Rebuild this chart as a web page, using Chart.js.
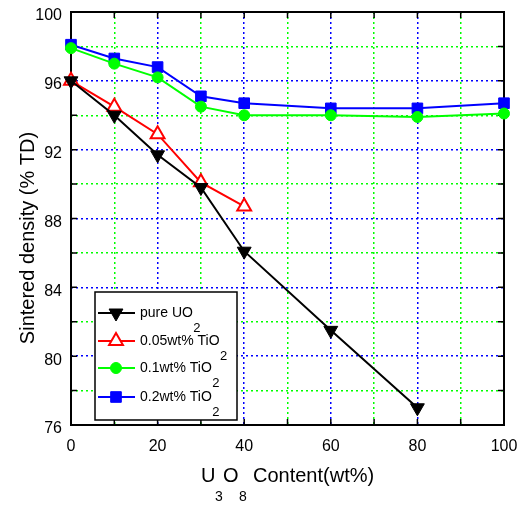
<!DOCTYPE html>
<html>
<head>
<meta charset="utf-8">
<script src="https://cdn.jsdelivr.net/npm/chart.js@4.4.0/dist/chart.umd.min.js"></script>
<style>
  html, body { margin: 0; padding: 0; background: #fff; }
  #wrap { width: 522px; height: 526px; }
</style>
</head>
<body>
<div id="wrap"><canvas id="chart" width="522" height="526"></canvas></div>
<script>
// data
const xPure = [0, 10, 20, 30, 40, 60, 80];
const yPure = [96.0, 94.0, 91.7, 89.8, 86.1, 81.5, 77.0];
const xTi005 = [0, 10, 20, 30, 40];
const yTi005 = [96.0, 94.5, 92.9, 90.1, 88.7];
const xTi01 = [0, 10, 20, 30, 40, 60, 80, 100];
const yTi01 = [97.9, 97.0, 96.2, 94.5, 94.0, 94.0, 93.9, 94.1];
const xTi02 = [0, 10, 20, 30, 40, 60, 80, 100];
const yTi02 = [98.1, 97.3, 96.8, 95.1, 94.7, 94.4, 94.4, 94.7];
// name + subscript part
const seriesNames = [['pure UO', '2'], ['0.05wt% TiO', '2'], ['0.1wt% TiO', '2'], ['0.2wt% TiO', '2']];

const FONT = '"Liberation Sans", Arial, sans-serif';
const GREEN = '#00ff00';
const BLUE = '#0000ff';

function pts(xs, ys) {
  return xs.map((x, i) => ({ x: x, y: ys[i] }));
}

function noPad(s) {
  s.paddingTop = 0; s.paddingBottom = 0;
  s.paddingLeft = 0; s.paddingRight = 0;
}

// frame, inward ticks, axis titles, legend
const framePlugin = {
  id: 'frame',
  beforeDatasetsDraw(chart) {
    const ctx = chart.ctx;
    const a = chart.chartArea;
    const xs = chart.scales.x, ys = chart.scales.y;
    ctx.save();
    ctx.strokeStyle = '#000';
    ctx.lineWidth = 2;
    ctx.strokeRect(a.left, a.top, a.right - a.left, a.bottom - a.top);
    ctx.lineWidth = 1.5;
    ctx.beginPath();
    xs.ticks.forEach(t => {
      const px = xs.getPixelForValue(t.value);
      ctx.moveTo(px, a.bottom); ctx.lineTo(px, a.bottom - 6);
      ctx.moveTo(px, a.top); ctx.lineTo(px, a.top + 6);
    });
    ys.ticks.forEach(t => {
      const py = ys.getPixelForValue(t.value);
      ctx.moveTo(a.left, py); ctx.lineTo(a.left + 6, py);
      ctx.moveTo(a.right, py); ctx.lineTo(a.right - 6, py);
    });
    ctx.stroke();
    ctx.restore();
  },
  afterDraw(chart) {
    const ctx = chart.ctx;
    ctx.save();
    ctx.fillStyle = '#000';
    // y title
    ctx.translate(28, 238);
    ctx.rotate(-Math.PI / 2);
    ctx.font = '20px ' + FONT;
    ctx.textAlign = 'center';
    ctx.textBaseline = 'middle';
    ctx.fillText('Sintered density (% TD)', 0, 0);
    ctx.restore();

    // x title with the subscripts dropped low
    ctx.save();
    ctx.fillStyle = '#000';
    ctx.font = '20px ' + FONT;
    ctx.textBaseline = 'middle';
    ctx.textAlign = 'left';
    ctx.fillText('U', 201, 476);
    ctx.fillText('O', 223, 476);
    ctx.fillText('Content(wt%)', 253, 476);
    ctx.font = '14px ' + FONT;
    ctx.textAlign = 'center';
    ctx.fillText('3', 219, 497);
    ctx.fillText('8', 243, 497);
    ctx.restore();

    // legend box
    ctx.save();
    ctx.fillStyle = '#fff';
    ctx.fillRect(95, 292, 142, 128);
    ctx.strokeStyle = '#000';
    ctx.lineWidth = 1.5;
    ctx.strokeRect(95, 292, 142, 128);
    const rows = [313, 341, 368, 397];
    chart.data.datasets.forEach((ds, i) => {
      const y = rows[i];
      ctx.strokeStyle = ds.borderColor;
      ctx.lineWidth = 2;
      ctx.beginPath();
      ctx.moveTo(98, y); ctx.lineTo(135, y);
      ctx.stroke();
      ctx.fillStyle = ds.pointBackgroundColor;
      ctx.strokeStyle = ds.pointBorderColor;
      ctx.lineWidth = ds.pointBorderWidth;
      Chart.helpers.drawPoint(ctx, {
        pointStyle: ds.pointStyle,
        rotation: ds.pointRotation || 0,
        radius: ds.pointRadius,
        borderWidth: ds.pointBorderWidth
      }, 116, y);
      ctx.fillStyle = '#000';
      ctx.font = '14px ' + FONT;
      ctx.textAlign = 'left';
      ctx.textBaseline = 'middle';
      const nm = seriesNames[i];
      ctx.fillText(nm[0], 140, y);
      const w = ctx.measureText(nm[0]).width;
      ctx.font = '13px ' + FONT;
      ctx.textAlign = 'center';
      ctx.fillText(nm[1], 140 + w + 4, y + 15);
    });
    ctx.restore();
  }
};

new Chart(document.getElementById('chart'), {
  type: 'line',
  data: {
    datasets: [
      {
        label: 'pure UO2',
        data: pts(xPure, yPure),
        borderColor: '#000',
        borderWidth: 2,
        pointStyle: 'triangle',
        pointRotation: 180,
        pointRadius: 8,
        pointBackgroundColor: '#000',
        pointBorderColor: '#000',
        pointBorderWidth: 1,
        clip: false
      },
      {
        label: '0.05wt% TiO2',
        data: pts(xTi005, yTi005),
        borderColor: '#ff0000',
        borderWidth: 2,
        pointStyle: 'triangle',
        pointRadius: 8,
        pointBackgroundColor: '#fff',
        pointBorderColor: '#ff0000',
        pointBorderWidth: 2,
        clip: false
      },
      {
        label: '0.1wt% TiO2',
        data: pts(xTi01, yTi01),
        borderColor: GREEN,
        borderWidth: 2,
        pointStyle: 'circle',
        pointRadius: 5.5,
        pointBackgroundColor: GREEN,
        pointBorderColor: GREEN,
        pointBorderWidth: 1,
        clip: false
      },
      {
        label: '0.2wt% TiO2',
        data: pts(xTi02, yTi02),
        borderColor: BLUE,
        borderWidth: 2,
        pointStyle: 'rect',
        pointRadius: 7.5,
        pointBackgroundColor: BLUE,
        pointBorderColor: BLUE,
        pointBorderWidth: 1,
        clip: false
      }
    ]
  },
  options: {
    responsive: false,
    animation: false,
    layout: { padding: { top: 12, right: 18, bottom: 0, left: 0 } },
    plugins: { legend: { display: false }, tooltip: { enabled: false } },
    scales: {
      x: {
        type: 'linear',
        min: 0, max: 100,
        afterFit(s) { s.height = 101; noPad(s); },
        ticks: {
          stepSize: 10,
          padding: 12,
          color: '#000',
          font: { family: FONT, size: 16 },
          maxRotation: 0,
          callback: v => (v % 20 === 0 ? String(v) : '')
        },
        grid: {
          drawTicks: false,
          lineWidth: 1.5,
          color: c => (c.tick && c.tick.value % 20 === 0 ? BLUE : GREEN)
        },
        border: { display: false, dash: [2, 3] }
      },
      y: {
        min: 76, max: 100,
        afterFit(s) { s.width = 71; noPad(s); },
        ticks: {
          stepSize: 2,
          padding: 9,
          labelOffset: 4,
          color: '#000',
          font: { family: FONT, size: 16 },
          callback: v => (v % 4 === 0 ? String(v) : '')
        },
        grid: {
          drawTicks: false,
          lineWidth: 1.5,
          color: c => (c.tick && c.tick.value % 4 === 0 ? BLUE : GREEN)
        },
        border: { display: false, dash: [2, 3] }
      }
    }
  },
  plugins: [framePlugin]
});
</script>
</body>
</html>
